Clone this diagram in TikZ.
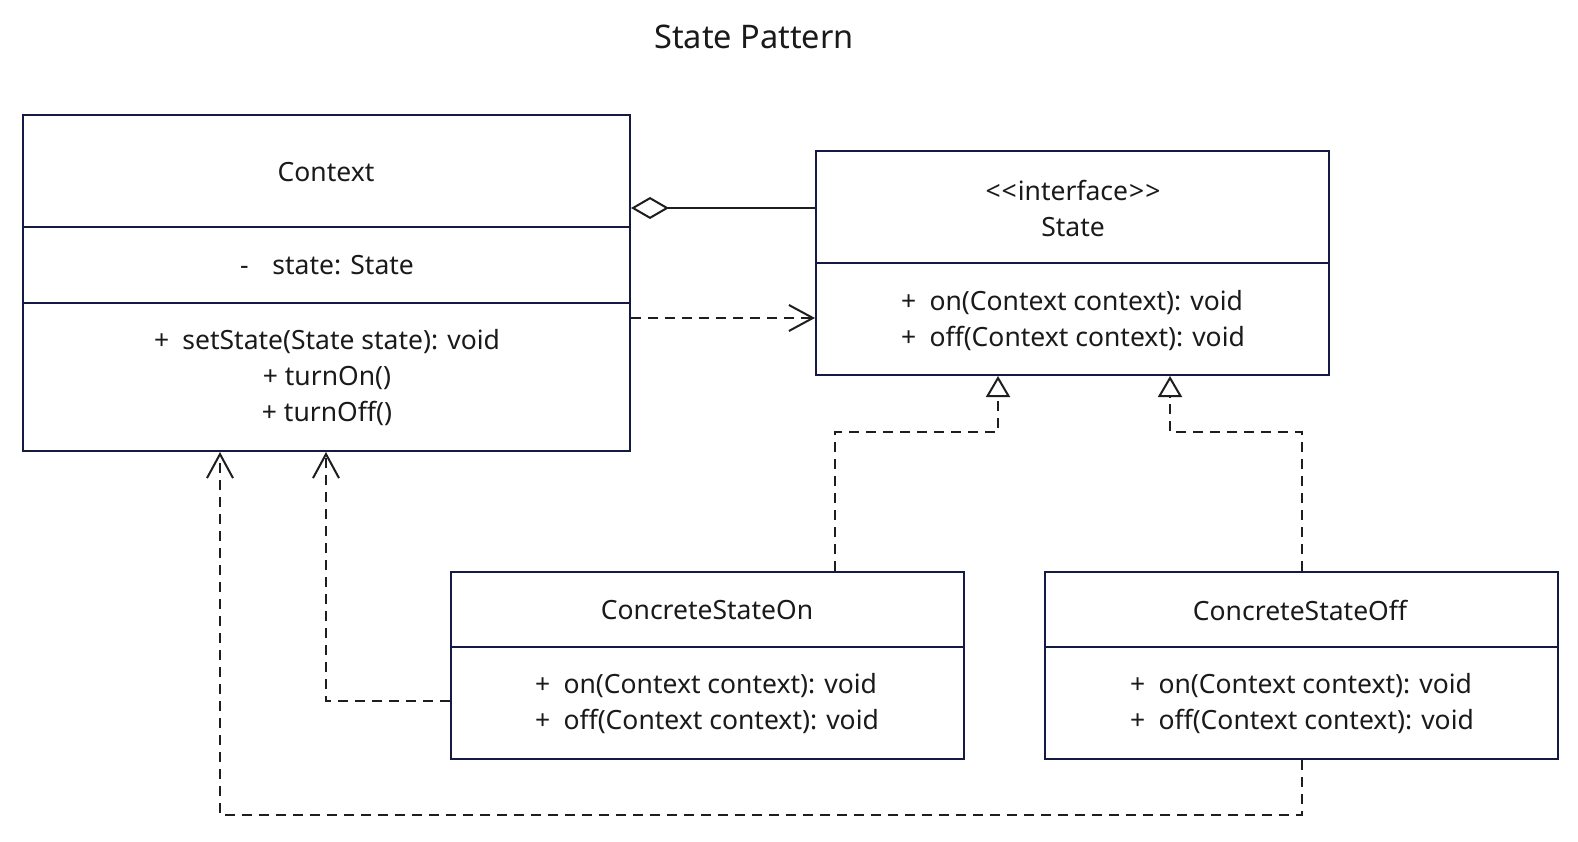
\documentclass[tikz,border=0pt]{standalone}
\usepackage{fontspec}
\setmainfont{Noto Sans}
\usetikzlibrary{arrows.meta,calc}
\definecolor{boxc}{HTML}{151A45}
\definecolor{linec}{HTML}{1E1E1E}
\definecolor{txtc}{HTML}{1A1A1A}
\begin{document}
\begin{tikzpicture}[x=1pt,y=-1pt,
  umlbox/.style={draw=boxc, line width=2pt, inner sep=0pt, fill=white},
  divider/.style={draw=boxc, line width=2pt},
  lbl/.style={text=txtc, font=\fontsize{26.5}{36}\selectfont, inner sep=0pt},
  ttl/.style={text=txtc, font=\fontsize{32.5}{38}\selectfont, inner sep=0pt},
  conn/.style={draw=linec, line width=2pt},
  dep/.style={conn, dash pattern=on 10pt off 7pt, -{Straight Barb[length=24pt,width=26pt,line width=2pt]}},
  real/.style={conn, dash pattern=on 10pt off 7pt, -{Triangle[open,length=21pt,width=24pt,line width=2pt,fill=white]}},
  aggr/.style={conn, -{Diamond[open,length=38pt,width=22pt,line width=2pt,fill=white]}}
]
\useasboundingbox (0,0) rectangle (1578,842);
\fill[white] (0,0) rectangle (1578,842);

\node[ttl] (title) at (754,37) {State Pattern};

% Context
\node[umlbox, minimum width=607pt, minimum height=336pt] (ctx) at (326.5,283) {};
\draw[divider] (23,227) -- (630,227);
\draw[divider] (23,303) -- (630,303);
\node[lbl] (ctxname) at (326,172) {Context};
\node[lbl] (ctxattr) at (327,265) {-\hspace{0.9em}state: State};
\node[lbl, align=center] (ctxops) at (327,378) {+\hspace{0.5em}setState(State state): void\\+ turnOn()\\+ turnOff()};

% State
\node[umlbox, minimum width=513pt, minimum height=224pt] (st) at (1072.5,263) {};
\draw[divider] (816,263) -- (1329,263);
\node[lbl, align=center] (stname) at (1073,208) {<\kern1pt<\kern1pt interface\kern1pt>\kern1pt>\\State};
\node[lbl, align=left] (stops) at (1073,321) {+\hspace{0.5em}on(Context context): void\\+\hspace{0.5em}off(Context context): void};

% ConcreteStateOn
\node[umlbox, minimum width=513pt, minimum height=187pt] (son) at (707.5,665.5) {};
\draw[divider] (451,647) -- (964,647);
\node[lbl] (sonname) at (707,610) {ConcreteStateOn};
\node[lbl, align=left] (sonops) at (707,704) {+\hspace{0.5em}on(Context context): void\\+\hspace{0.5em}off(Context context): void};

% ConcreteStateOff
\node[umlbox, minimum width=513pt, minimum height=187pt] (soff) at (1301.5,665.5) {};
\draw[divider] (1045,647) -- (1558,647);
\node[lbl] (soffname) at (1300,610) {ConcreteStateOff};
\node[lbl, align=left] (soffops) at (1302,704) {+\hspace{0.5em}on(Context context): void\\+\hspace{0.5em}off(Context context): void};

% aggregation
\draw[aggr] ($(st.north west)+(0,58)$) -- ($(ctx.north east)+(0,94)$);
% dependency Context -> State
\draw[dep] ($(ctx.north east)+(0,204)$) -- ($(st.north west)+(0,168)$);
% realizations
\draw[real] ($(son.north west)+(385,0)$) |- ($(st.south west)+(183,56)$) -- ($(st.south west)+(183,0)$);
\draw[real] ($(soff.north west)+(258,0)$) |- ($(st.south west)+(355,56)$) -- ($(st.south west)+(355,0)$);
% dependencies to Context
\draw[dep] ($(son.north west)+(0,130)$) -| ($(ctx.south west)+(304,0)$);
\draw[dep] ($(soff.south west)+(258,0)$) |- ($(ctx.south west)+(198,363)$) -- ($(ctx.south west)+(198,0)$);
\end{tikzpicture}
\end{document}
